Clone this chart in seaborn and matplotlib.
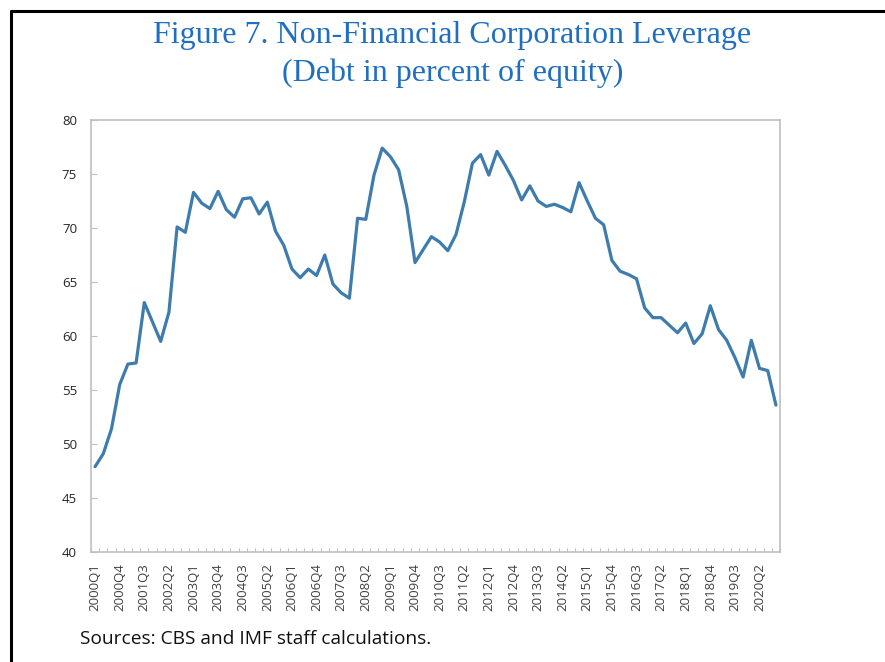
import numpy as np
import pandas as pd
import seaborn as sns
import matplotlib.pyplot as plt
from matplotlib.lines import Line2D
from matplotlib.ticker import FixedLocator

# quarterly labels 2000Q1 .. 2020Q4
years = list(range(2000, 2021))
quarters = ["Q1", "Q2", "Q3", "Q4"]
periods = [f"{y}{q}" for y in years for q in quarters]

leverage = [
    47.9, 49.1, 51.4, 55.5, 57.4, 57.5, 63.1, 61.3, 59.5, 62.2,
    70.1, 69.6, 73.3, 72.3, 71.8, 73.4, 71.7, 71.0, 72.7, 72.8,
    71.3, 72.4, 69.7, 68.4, 66.2, 65.4, 66.2, 65.6, 67.5, 64.8,
    64.0, 63.5, 70.9, 70.8, 74.9, 77.4, 76.6, 75.4, 72.0, 66.8,
    68.0, 69.2, 68.7, 67.9, 69.4, 72.4, 76.0, 76.8, 74.9, 77.1,
    75.8, 74.4, 72.6, 73.9, 72.5, 72.0, 72.2, 71.9, 71.5, 74.2,
    72.5, 70.9, 70.3, 67.0, 66.0, 65.7, 65.3, 62.6, 61.7, 61.7,
    61.0, 60.3, 61.2, 59.3, 60.2, 62.8, 60.6, 59.6, 58.0, 56.2,
    59.6, 57.0, 56.8, 53.6,
]

df = pd.DataFrame({"period": periods, "leverage": leverage})
df["idx"] = range(len(df))

sns.set_style("white")
plt.rcParams["font.family"] = ["Open Sans", "DejaVu Sans"]

fig = plt.figure(figsize=(8.85, 6.62), dpi=100)
ax = fig.add_axes([0.1028, 0.1662, 0.7786, 0.6525])

sns.lineplot(data=df, x="idx", y="leverage", ax=ax, color="#3F7CAE", linewidth=2.3)

ax.set_xlim(-0.5, len(df) - 0.5)
ax.set_ylim(40, 80)
ax.set_yticks(range(40, 81, 5))
ax.set_xticks(df["idx"][::3])
ax.set_xticklabels(df["period"][::3], rotation=90)
ax.xaxis.set_minor_locator(FixedLocator(np.arange(-0.5, len(df), 1.0)))
ax.tick_params(axis="x", which="major", length=0, pad=8, labelsize=9.5, labelcolor="#404040")
ax.tick_params(axis="x", which="minor", direction="in", length=3, width=0.8, color="#BFBFBF", bottom=True)
ax.tick_params(axis="y", which="major", direction="in", length=4, width=0.8, color="#BFBFBF",
               left=True, pad=10, labelsize=9.5, labelcolor="#262626")
ax.set_xlabel("")
ax.set_ylabel("")
for s in ax.spines.values():
    s.set_color("#BFBFBF")
    s.set_linewidth(1.2)
ax.grid(False)

fig.text(0.511, 0.946, "Figure 7. Non-Financial Corporation Leverage", ha="center", va="center",
         family="Liberation Serif", fontsize=23, color="#1F6EC0")
fig.text(0.511, 0.889, "(Debt in percent of equity)", ha="center", va="center",
         family="Liberation Serif", fontsize=23, color="#1F6EC0")
fig.text(0.090, 0.034, "Sources: CBS and IMF staff calculations.", ha="left", va="center",
         fontsize=13.8, color="#111111")

# frame of the figure box (top and left edges)
fig.add_artist(Line2D([0.0124, 1.0], [0.9834, 0.9834], transform=fig.transFigure, color="black", linewidth=2.2))
fig.add_artist(Line2D([0.0124, 0.0124], [0.0, 0.9834], transform=fig.transFigure, color="black", linewidth=2.2))

fig.savefig("out.png", dpi=100)
